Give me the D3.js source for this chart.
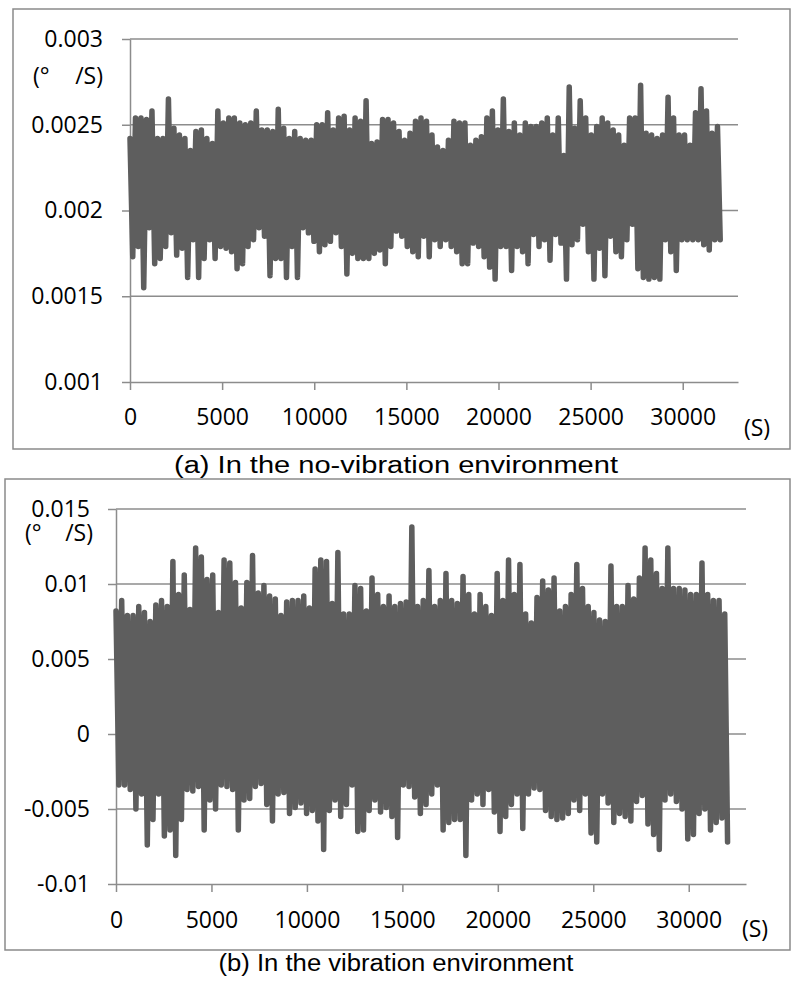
<!DOCTYPE html>
<html>
  <head>
    <meta charset="utf-8">
    <title>Gyro drift, with and without vibration</title>
    <script src="https://d3js.org/d3.v7.min.js"></script>
    <style>
      body { margin: 0; background: #fff; }
      svg { display: block; }
      .axis-text { font-family: "Open Sans", sans-serif; font-size: 23px; fill: #000; }
      .caption { font-family: "Liberation Sans", Arial, sans-serif; font-size: 23px; fill: #000; }
      .frame { fill: none; stroke: #8a8a8a; stroke-width: 1.5; }
      .grid { stroke: #8c8c8c; stroke-width: 1.5; }
      .axis path, .axis line { stroke: #8c8c8c; stroke-width: 1.5; }
      .trace { fill: none; stroke: #5e5e5e; stroke-width: 5.5; stroke-linejoin: round; stroke-linecap: round; }
    </style>
  </head>
  <body>
    <svg id="chart" width="792" height="981"></svg>
    <script>
      // values: alternating peak / trough of each trace
      var sampleStep = 149; // seconds between plotted samples
      var xTicks = [0, 5000, 10000, 15000, 20000, 25000, 30000];
      var yTicksA = [0.001, 0.0015, 0.002, 0.0025, 0.003];
      var yTicksB = [-0.01, -0.005, 0, 0.005, 0.01, 0.015];
      var unitLabel = ["(°", "/S)"];
      var timeLabel = "(S)";
      var captionA = "(a) In the no-vibration environment";
      var captionB = "(b) In the vibration environment";

      var peaksA = [
        0.00242, 0.00254, 0.00254, 0.00253, 0.00258, 0.00242, 0.00242, 0.00265, 0.00248, 0.00244,
        0.00242, 0.00235, 0.00246, 0.00247, 0.00242, 0.00239, 0.00258, 0.00251, 0.00254, 0.00254,
        0.00251, 0.00250, 0.00251, 0.00258, 0.00247, 0.00247, 0.00246, 0.00259, 0.00248, 0.00242,
        0.00246, 0.00242, 0.00241, 0.00241, 0.00250, 0.00250, 0.00257, 0.00247, 0.00254, 0.00255,
        0.00247, 0.00254, 0.00252, 0.00264, 0.00239, 0.00240, 0.00253, 0.00253, 0.00251, 0.00246,
        0.00241, 0.00245, 0.00252, 0.00254, 0.00252, 0.00244, 0.00237, 0.00235, 0.00241, 0.00252,
        0.00251, 0.00251, 0.00238, 0.00241, 0.00243, 0.00254, 0.00258, 0.00247, 0.00265, 0.00246,
        0.00251, 0.00244, 0.00251, 0.00249, 0.00249, 0.00251, 0.00254, 0.00244, 0.00254, 0.00232,
        0.00272, 0.00248, 0.00264, 0.00254, 0.00244, 0.00249, 0.00254, 0.00251, 0.00247, 0.00244,
        0.00238, 0.00254, 0.00254, 0.00273, 0.00245, 0.00244, 0.00242, 0.00244, 0.00266, 0.00254,
        0.00244, 0.00244, 0.00238, 0.00257, 0.00271, 0.00258, 0.00245, 0.00249
      ];
      var troughsA = [
        0.00173, 0.00179, 0.00155, 0.00190, 0.00169, 0.00172, 0.00179, 0.00187, 0.00174, 0.00178,
        0.00161, 0.00183, 0.00161, 0.00172, 0.00183, 0.00172, 0.00179, 0.00178, 0.00176, 0.00166,
        0.00169, 0.00179, 0.00183, 0.00190, 0.00185, 0.00162, 0.00172, 0.00172, 0.00161, 0.00179,
        0.00161, 0.00190, 0.00187, 0.00182, 0.00176, 0.00180, 0.00182, 0.00187, 0.00179, 0.00163,
        0.00175, 0.00172, 0.00172, 0.00172, 0.00175, 0.00177, 0.00169, 0.00179, 0.00188, 0.00185,
        0.00179, 0.00176, 0.00173, 0.00185, 0.00173, 0.00183, 0.00179, 0.00183, 0.00179, 0.00176,
        0.00169, 0.00169, 0.00181, 0.00179, 0.00173, 0.00167, 0.00160, 0.00179, 0.00179, 0.00165,
        0.00179, 0.00176, 0.00169, 0.00186, 0.00179, 0.00183, 0.00171, 0.00186, 0.00181, 0.00160,
        0.00180, 0.00183, 0.00192, 0.00176, 0.00160, 0.00178, 0.00162, 0.00185, 0.00176, 0.00173,
        0.00183, 0.00192, 0.00166, 0.00161, 0.00160, 0.00161, 0.00160, 0.00183, 0.00176, 0.00165,
        0.00183, 0.00183, 0.00183, 0.00183, 0.00180, 0.00177, 0.00183, 0.00183
      ];
      var peaksB = [
        0.0082, 0.0089, 0.0079, 0.0079, 0.0085, 0.0081, 0.0075, 0.0086, 0.0089, 0.0085,
        0.0115, 0.0093, 0.0106, 0.0083, 0.0124, 0.0118, 0.0103, 0.0106, 0.0081, 0.0116,
        0.0114, 0.0101, 0.0084, 0.0101, 0.0119, 0.0094, 0.0099, 0.0092, 0.0090, 0.0079,
        0.0088, 0.0089, 0.0089, 0.0092, 0.0084, 0.0110, 0.0116, 0.0115, 0.0087, 0.0121,
        0.0080, 0.0080, 0.0099, 0.0097, 0.0082, 0.0104, 0.0093, 0.0085, 0.0092, 0.0085,
        0.0087, 0.0088, 0.0138, 0.0085, 0.0089, 0.0109, 0.0085, 0.0089, 0.0107, 0.0089,
        0.0087, 0.0105, 0.0093, 0.0080, 0.0093, 0.0085, 0.0079, 0.0107, 0.0089, 0.0116,
        0.0093, 0.0113, 0.0080, 0.0074, 0.0091, 0.0102, 0.0096, 0.0104, 0.0082, 0.0085,
        0.0093, 0.0113, 0.0097, 0.0085, 0.0081, 0.0076, 0.0075, 0.0112, 0.0085, 0.0085,
        0.0099, 0.0090, 0.0104, 0.0124, 0.0116, 0.0107, 0.0097, 0.0124, 0.0097, 0.0097,
        0.0096, 0.0093, 0.0093, 0.0114, 0.0093, 0.0089, 0.0089, 0.0080
      ];
      var troughsB = [
        -0.0034, -0.0034, -0.0037, -0.0050, -0.0040, -0.0074, -0.0057, -0.0040, -0.0068, -0.0064,
        -0.0081, -0.0057, -0.0037, -0.0038, -0.0035, -0.0064, -0.0044, -0.0050, -0.0034, -0.0035,
        -0.0037, -0.0064, -0.0044, -0.0043, -0.0035, -0.0033, -0.0047, -0.0058, -0.0040, -0.0039,
        -0.0053, -0.0049, -0.0046, -0.0053, -0.0051, -0.0058, -0.0077, -0.0051, -0.0044, -0.0055,
        -0.0047, -0.0034, -0.0065, -0.0064, -0.0051, -0.0044, -0.0052, -0.0049, -0.0055, -0.0069,
        -0.0034, -0.0035, -0.0042, -0.0053, -0.0047, -0.0040, -0.0034, -0.0064, -0.0059, -0.0057,
        -0.0057, -0.0081, -0.0044, -0.0040, -0.0047, -0.0037, -0.0052, -0.0065, -0.0055, -0.0047,
        -0.0040, -0.0063, -0.0040, -0.0036, -0.0037, -0.0051, -0.0055, -0.0057, -0.0056, -0.0053,
        -0.0044, -0.0051, -0.0040, -0.0066, -0.0072, -0.0040, -0.0046, -0.0059, -0.0053, -0.0055,
        -0.0058, -0.0045, -0.0041, -0.0060, -0.0067, -0.0077, -0.0044, -0.0040, -0.0045, -0.0050,
        -0.0070, -0.0067, -0.0053, -0.0050, -0.0064, -0.0059, -0.0056, -0.0072
      ];

      // page layout for each panel
      var panels = [
        {
          peaks: peaksA, troughs: troughsA, yTicks: yTicksA, caption: captionA,
          box: [13, 9, 777, 440], left: 130, right: 738, top: 39, bottom: 382,
          yPad: 19, xPad: 19, unitStart: 33, unitEnd: 103, unitY: 75,
          timeX: 757, timeY: 427, capY: 465, capW: 444
        },
        {
          peaks: peaksB, troughs: troughsB, yTicks: yTicksB, caption: captionB,
          box: [5, 479, 785, 471], left: 116, right: 746, top: 509, bottom: 884,
          yPad: 18, xPad: 20, unitStart: 25, unitEnd: 93, unitY: 532,
          timeX: 755, timeY: 928, capY: 963, capW: 355
        }
      ];

      svg = d3.select("#chart");
      panels.forEach(drawPanel);

      function buildSeries(peaks, troughs) {
        var out = [];
        peaks.forEach(function(p, i) {
          out.push({ t: out.length * sampleStep, v: p });
          out.push({ t: out.length * sampleStep, v: troughs[i] });
        });
        return out;
      }

      function drawPanel(p) {
        var g = svg.append("g");
        g.append("rect")
          .classed("frame", true)
          .attr("x", p.box[0]).attr("y", p.box[1])
          .attr("width", p.box[2]).attr("height", p.box[3]);

        var x = d3.scaleLinear().domain([0, 33000]).range([p.left, p.right]);
        var y = d3.scaleLinear().domain(d3.extent(p.yTicks)).range([p.bottom, p.top]);

        // gridlines
        g.selectAll(".grid")
            .data(p.yTicks.slice(1))
          .enter().append("line")
            .classed("grid", true)
            .attr("x1", p.left).attr("x2", p.right)
            .attr("y1", y).attr("y2", y);

        // axes
        var yAxis = g.append("g")
          .classed("axis", true)
          .attr("transform", "translate(" + p.left + ",0)")
          .call(d3.axisLeft(y).tickValues(p.yTicks).tickFormat(String)
            .tickSize(8).tickSizeOuter(0).tickPadding(p.yPad));
        var xAxis = g.append("g")
          .classed("axis", true)
          .attr("transform", "translate(0," + p.bottom + ")")
          .call(d3.axisBottom(x).tickValues(xTicks).tickFormat(String)
            .tickSize(8).tickSizeOuter(0).tickPadding(p.xPad));
        [yAxis, xAxis].forEach(function(a) {
          a.attr("font-size", null).attr("font-family", null);
          a.selectAll("text").classed("axis-text", true);
        });

        // trace
        var line = d3.line()
          .x(function(d) { return x(d.t); })
          .y(function(d) { return y(d.v); });
        g.append("path")
          .datum(buildSeries(p.peaks, p.troughs))
          .classed("trace", true)
          .attr("d", line);

        // unit labels
        g.append("text")
          .classed("axis-text", true)
          .attr("x", p.unitStart).attr("y", p.unitY)
          .attr("dominant-baseline", "central")
          .text(unitLabel[0]);
        g.append("text")
          .classed("axis-text", true)
          .attr("x", p.unitEnd).attr("y", p.unitY)
          .attr("text-anchor", "end")
          .attr("dominant-baseline", "central")
          .text(unitLabel[1]);
        g.append("text")
          .classed("axis-text", true)
          .attr("x", p.timeX).attr("y", p.timeY)
          .attr("text-anchor", "middle")
          .attr("dominant-baseline", "central")
          .text(timeLabel);

        // caption below the frame
        g.append("text")
          .classed("caption", true)
          .attr("x", 396).attr("y", p.capY)
          .attr("text-anchor", "middle")
          .attr("dominant-baseline", "central")
          .attr("textLength", p.capW)
          .attr("lengthAdjust", "spacingAndGlyphs")
          .text(p.caption);
      }
    </script>
  </body>
</html>
